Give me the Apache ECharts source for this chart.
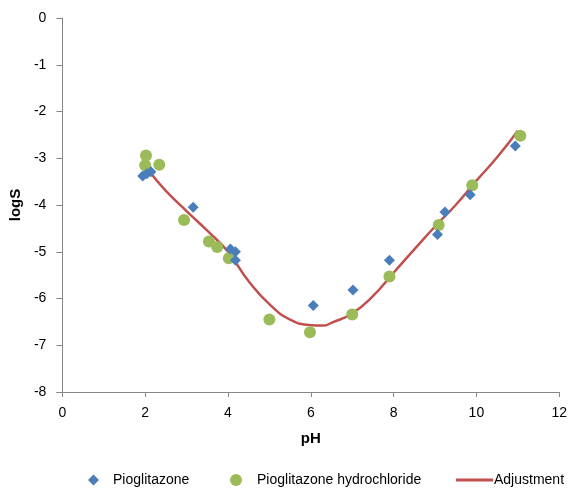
<!DOCTYPE html>
<html>
<head>
<meta charset="utf-8">
<script src="https://cdn.jsdelivr.net/npm/echarts@6/dist/echarts.min.js"></script>
<style>
  html, body { margin: 0; padding: 0; background: #fff; }
  #main { width: 570px; height: 489px; }
</style>
</head>
<body>
<div id="main"></div>
<script>
// values: [pH, logS]
var pioglitazone = [
  [1.94, -3.38], [2.04, -3.33], [2.14, -3.29], [3.16, -4.05],
  [4.06, -4.94], [4.18, -5.00], [4.18, -5.18], [6.06, -6.15],
  [7.02, -5.82], [7.90, -5.18], [9.06, -4.63], [9.24, -4.15],
  [9.85, -3.78], [10.94, -2.74]
];
var hydrochloride = [
  [2.02, -2.94], [2.00, -3.15], [2.34, -3.14], [2.94, -4.32],
  [3.54, -4.78], [3.74, -4.90], [4.02, -5.14], [5.00, -6.45],
  [5.98, -6.72], [7.00, -6.34], [7.90, -5.53], [9.09, -4.43],
  [9.90, -3.58], [11.06, -2.52]
];
var adjustment = [
  [2.1, -3.28], [2.5, -3.70], [3.0, -4.13], [3.5, -4.55], [4.0, -5.00],
  [4.5, -5.63], [5.0, -6.12], [5.5, -6.45], [6.0, -6.57], [6.3, -6.58],
  [6.5, -6.52], [7.0, -6.32], [7.5, -5.95], [8.0, -5.45], [8.5, -4.95],
  [9.0, -4.46], [9.5, -4.00], [10.0, -3.48], [10.5, -2.98], [11.0, -2.41]
];
var seriesNames = ['Pioglitazone', 'Pioglitazone hydrochloride', 'Adjustment'];

var font = 'Liberation Sans, Arial, sans-serif';
var textColor = '#000';
var axisColor = '#868686';

var chart = echarts.init(document.getElementById('main'));
chart.setOption({
  animation: false,
  textStyle: { fontFamily: font },
  grid: { left: 60, right: 10, top: 18, bottom: 97, containLabel: false },
  xAxis: {
    type: 'value', min: 0, max: 12, interval: 2,
    name: 'pH', nameLocation: 'middle', nameGap: 39,
    nameTextStyle: { fontSize: 15, fontWeight: 'bold', color: textColor, fontFamily: font },
    axisLine: { onZero: false, lineStyle: { color: axisColor } },
    axisTick: { show: true, inside: false, length: 5, lineStyle: { color: axisColor } },
    axisLabel: { fontSize: 14, color: textColor, margin: 14, fontFamily: font },
    splitLine: { show: false }
  },
  yAxis: {
    type: 'value', min: -8, max: 0, interval: 1,
    name: 'logS', nameLocation: 'middle', nameGap: 38, nameRotate: 90,
    nameTextStyle: { fontSize: 15, fontWeight: 'bold', color: textColor, fontFamily: font },
    axisLine: { show: true, onZero: false, lineStyle: { color: axisColor } },
    axisTick: { show: true, inside: false, length: 6, lineStyle: { color: axisColor } },
    axisLabel: { fontSize: 14, color: textColor, margin: 16, fontFamily: font },
    splitLine: { show: false }
  },
  legend: [
    { data: [seriesNames[0]], left: 83, top: 468, itemWidth: 11, itemHeight: 11, itemGap: 0,
      textStyle: { fontSize: 14, color: textColor, fontFamily: font, padding: [0, 0, 0, 9] } },
    { data: [seriesNames[1]], left: 225, top: 468, itemWidth: 12, itemHeight: 12, itemGap: 0,
      textStyle: { fontSize: 14, color: textColor, fontFamily: font, padding: [0, 0, 0, 10] } },
    { data: [{ name: seriesNames[2], icon: 'rect' }], left: 451, top: 468, itemWidth: 37, itemHeight: 3, itemGap: 0,
      textStyle: { fontSize: 14, color: textColor, fontFamily: font, padding: [0, 0, 0, -4] } }
  ],
  series: [
    {
      name: seriesNames[2], type: 'line', data: adjustment, smooth: true,
      showSymbol: false, symbol: 'none', z: 1,
      lineStyle: { color: '#C0504D', width: 2.5 }, itemStyle: { color: '#C0504D' }
    },
    {
      name: seriesNames[0], type: 'scatter', data: pioglitazone, symbol: 'diamond',
      symbolSize: 11, z: 3, itemStyle: { color: '#4A7EBB', opacity: 1 }
    },
    {
      name: seriesNames[1], type: 'scatter', data: hydrochloride, symbol: 'circle',
      symbolSize: 12, z: 2, itemStyle: { color: '#9BBB59', opacity: 1 }
    }
  ]
});
</script>
</body>
</html>
